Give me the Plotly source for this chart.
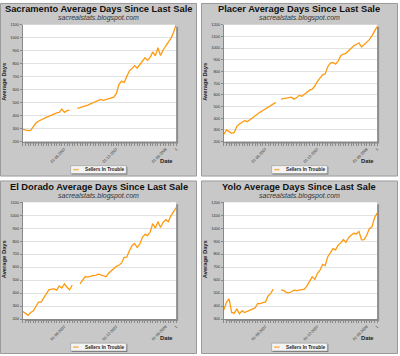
import plotly.graph_objects as go

W, H = 400, 356

idx = list(range(60))

sacramento = [294, 288, 284, 286, 315, 342, 356, 368, 378, 386,
              394, 404, 416, 421, 424, 450, 425, 438, 442, None,
              None, 455, 460, 466, 474, 481, 490, 500, 506, 520,
              524, 517, 523, 530, 536, 542, 570, 640, 665, 655,
              700, 745, 762, 785, 765, 790, 820, 845, 825, 848,
              890, 860, 922, 862, 905, 940, 965, 995, 1040, 1100]

placer = [262, 300, 285, 270, 278, 330, 350, 365, 378, 370,
          388, 405, 420, 438, 452, 466, 480, 498, 510, 528,
          535, None, 562, 567, 574, 580, 580, 563, 575, 595,
          588, 605, 625, 640, 648, 675, 715, 748, 771, 779,
          840, 872, 876, 862, 888, 935, 949, 955, 978, 1005,
          1019, 1030, 1045, 1010, 1030, 1048, 1072, 1105, 1145, 1183]

eldorado = [258, 240, 228, 250, 262, 296, 330, 330, 365, 400,
            425, 430, 432, 422, 455, 438, 470, 445, 425, 462,
            None, None, 470, 500, 527, 522, 530, 534, 536, 546,
            540, 530, 525, 552, 570, 590, 605, 614, 632, 675,
            676, 725, 765, 782, 752, 776, 828, 852, 842, 870,
            935, 900, 950, 905, 945, 965, 950, 995, 1028, 1058]

yolo = [371, 430, 455, 350, 345, 378, 340, 365, 350, 358,
        372, 378, 385, 420, 418, 426, 430, 478, 495, 530,
        None, None, 524, 520, 505, 502, 510, 522, 518, 525,
        527, 530, 555, 590, 625, 605, 650, 676, 720, 712,
        780, 810, 842, 832, 868, 886, 912, 890, 926, 945,
        960, 955, 975, 910, 912, 945, 995, 1010, 1080, 1116]

date_labels = {16: "01-06-2007", 36: "01-12-2007", 55: "01-06-2008", 59: "1"}
series_name = "Sellers In Trouble"
subtitle = "sacrealstats.blogspot.com"

panels = [
    ("Sacramento Average Days Since Last Sale", sacramento, (200, 1100), (0, 0)),
    ("Placer Average Days Since Last Sale", placer, (200, 1200), (202, 0)),
    ("El Dorado Average Days Since Last Sale", eldorado, (200, 1100), (0, 180)),
    ("Yolo Average Days Since Last Sale", yolo, (300, 1200), (202, 180)),
]

PW, PH = 198, 176
PX0, PX1, PY0, PY1 = 23, 177, 22, 140.5
FONT = "Liberation Sans, Arial, sans-serif"


def fx(x):
    return x / W


def fy(y):
    return 1 - y / H


fig = go.Figure()
shapes = []
annotations = []
layout_axes = {}

for k, (title, ys, yr, (ox, oy)) in enumerate(panels):
    n = k + 1
    xa = "x" if n == 1 else f"x{n}"
    ya = "y" if n == 1 else f"y{n}"
    xkey = "xaxis" if n == 1 else f"xaxis{n}"
    ykey = "yaxis" if n == 1 else f"yaxis{n}"

    fig.add_trace(go.Scatter(
        x=idx, y=ys, mode="lines", name=series_name,
        line=dict(color="#ff9a10", width=1.3),
        xaxis=xa, yaxis=ya, connectgaps=False, showlegend=False,
    ))

    layout_axes[xkey] = dict(
        domain=[fx(ox + PX0), fx(ox + PX1)], range=[0, 59], anchor=ya,
        tickmode="array", tickvals=idx,
        ticktext=[date_labels.get(i, "") for i in idx],
        tickangle=-45, ticks="outside", ticklen=3, tickwidth=1.2,
        tickcolor="#8a8a8a", tickfont=dict(size=3.8, color="#333", family=FONT),
        showgrid=False, zeroline=False, showline=True, linecolor="#888",
        fixedrange=True,
    )
    layout_axes[ykey] = dict(
        domain=[fy(oy + PY1), fy(oy + PY0)], range=list(yr), anchor=xa,
        dtick=100, tick0=0, ticks="outside", ticklen=2, tickcolor="#888",
        tickfont=dict(size=4, color="#333", family=FONT),
        showgrid=True, gridcolor="#e2e2e2", gridwidth=1, zeroline=False,
        showline=True, linecolor="#888", fixedrange=True,
    )

    # panel background
    shapes.append(dict(type="rect", xref="paper", yref="paper", layer="below",
                       x0=fx(ox + 0.5), x1=fx(ox + PW - 0.5),
                       y0=fy(oy + PH - 0.5), y1=fy(oy + 0.5),
                       fillcolor="#c8c8c8", line=dict(color="#9a9a9a", width=1)))
    # plot area shadow
    shapes.append(dict(type="rect", xref="paper", yref="paper", layer="below",
                       x0=fx(ox + PX0 + 2), x1=fx(ox + PX1 + 2),
                       y0=fy(oy + PY1 + 2), y1=fy(oy + PY0 + 2),
                       fillcolor="#8c8c8c", line=dict(width=0)))
    # plot area
    shapes.append(dict(type="rect", xref="paper", yref="paper", layer="below",
                       x0=fx(ox + PX0), x1=fx(ox + PX1),
                       y0=fy(oy + PY1), y1=fy(oy + PY0),
                       fillcolor="#ffffff", line=dict(width=0)))
    # legend box shadow + box
    shapes.append(dict(type="rect", xref="paper", yref="paper", layer="below",
                       x0=fx(ox + 72), x1=fx(ox + 128),
                       y0=fy(oy + 174), y1=fy(oy + 166),
                       fillcolor="#777777", line=dict(width=0)))
    shapes.append(dict(type="rect", xref="paper", yref="paper", layer="below",
                       x0=fx(ox + 71), x1=fx(ox + 127),
                       y0=fy(oy + 173), y1=fy(oy + 165),
                       fillcolor="#f4f4f4", line=dict(color="#999", width=0.6)))
    shapes.append(dict(type="line", xref="paper", yref="paper", layer="above",
                       x0=fx(ox + 73.5), x1=fx(ox + 79),
                       y0=fy(oy + 169), y1=fy(oy + 169),
                       line=dict(color="#ffb050", width=1.5)))

    annotations += [
        dict(text=f"<b>{title}</b>", x=fx(ox + 99), y=fy(oy + 6.5),
             xref="paper", yref="paper", showarrow=False,
             xanchor="center", yanchor="middle",
             font=dict(size=9.3, color="#111", family=FONT)),
        dict(text=f"<i>{subtitle}</i>", x=fx(ox + 99), y=fy(oy + 15.5),
             xref="paper", yref="paper", showarrow=False,
             xanchor="center", yanchor="middle",
             font=dict(size=7, color="#333", family=FONT)),
        dict(text="<b>Average Days</b>", x=fx(ox + 4), y=fy(oy + 80),
             xref="paper", yref="paper", showarrow=False, textangle=-90,
             xanchor="center", yanchor="middle",
             font=dict(size=5.8, color="#222", family=FONT)),
        dict(text="<b>Date</b>", x=fx(ox + 176), y=fy(oy + 160),
             xref="paper", yref="paper", showarrow=False,
             xanchor="right", yanchor="middle",
             font=dict(size=5.8, color="#222", family=FONT)),
        dict(text=f"<b>{series_name}</b>", x=fx(ox + 83.5), y=fy(oy + 169),
             xref="paper", yref="paper", showarrow=False,
             xanchor="left", yanchor="middle",
             font=dict(size=4.7, color="#222", family=FONT)),
    ]

fig.update_layout(
    width=W, height=H, autosize=False,
    margin=dict(l=0, r=0, t=0, b=0),
    paper_bgcolor="#ffffff", plot_bgcolor="#ffffff",
    showlegend=False, shapes=shapes, annotations=annotations,
    font=dict(family=FONT),
    **layout_axes,
)

fig.write_html(
    "out.html",
    config={"displayModeBar": False},
    post_script="document.body.style.margin='0';document.body.style.overflow='hidden';",
)
